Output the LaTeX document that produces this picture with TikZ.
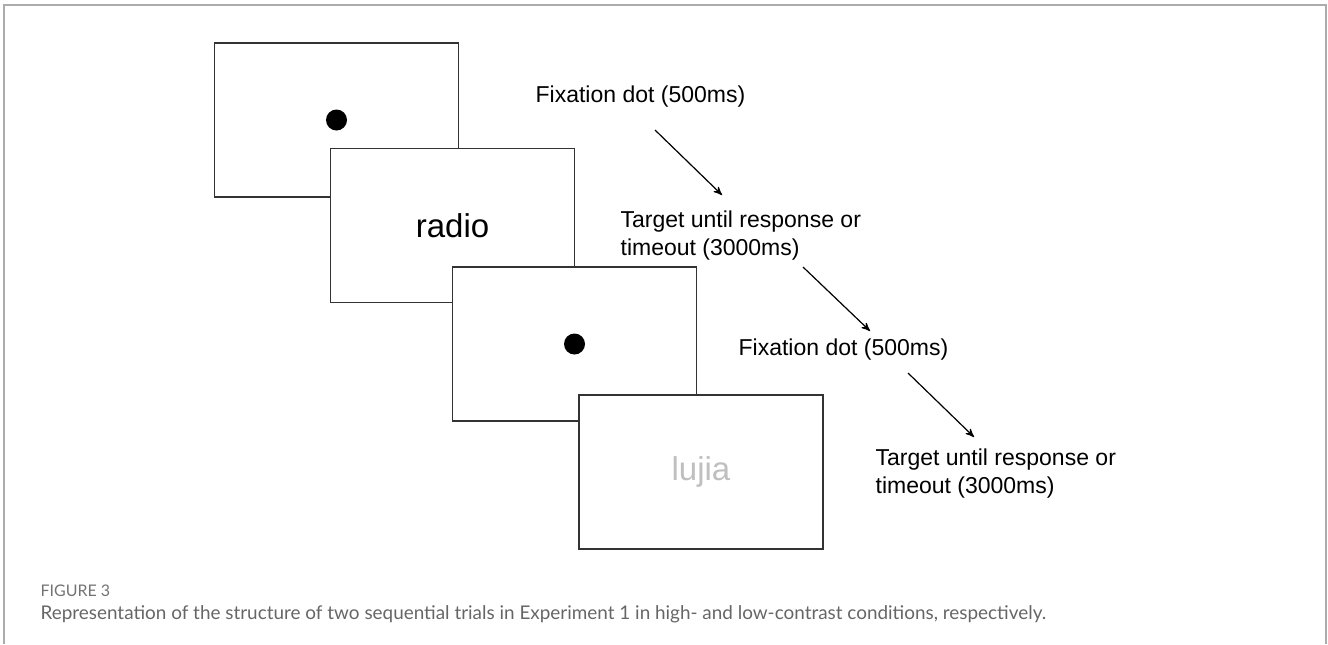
\documentclass[tikz,border=0pt]{standalone}
\usepackage{fontspec}
\setmainfont{Liberation Sans}
\newfontfamily\capfont{Lato}
\usetikzlibrary{arrows,positioning}

\begin{document}
\begin{tikzpicture}[x=0.5pt, y=-0.5pt, ->, >=stealth', semithick]
	\tikzstyle{screen}=[draw=black!80,fill=white,line width=0.75pt,minimum width=122pt,minimum height=77pt,inner sep=0pt]
	\tikzstyle{fixdot}=[circle,fill=black,minimum size=10.5pt,inner sep=0pt]
	\tikzstyle{step label}=[anchor=west,align=left,inner sep=0pt,font=\fontsize{11.5}{14}\selectfont]
	\tikzstyle{word}=[font=\fontsize{16.5}{20}\selectfont]
	\useasboundingbox (0,0) rectangle (1328,644);
	\draw[-, gray!65, line width=0.75pt] (4,644) -- (4,5) -- (1326,5) -- (1326,644);
	% screens
	\node[screen]   (S1) at (336.5,120)   {};
	\node[fixdot]   (D1) at (S1)          {};
	\node[screen]   (S2) at (452.5,225.5) {};
	\node[word]     (W1) at (S2)          {radio};
	\node[screen]   (S3) at (574.5,344)   {};
	\node[fixdot]   (D2) at (S3)          {};
	\node[screen]   (S4) at (701,472)     {};
	\node[word,text=black!25] (W2) at (S4) {lujia};
	% labels
	\node[step label] (L1) at (535,97)  {Fixation dot (500ms)};
	\node[step label] (L2) at (620,236) {Target until response or\\timeout (3000ms)};
	\node[step label] (L3) at (738,350) {Fixation dot (500ms)};
	\node[step label] (L4) at (875,474) {Target until response or\\timeout (3000ms)};
	\coordinate (A1) at (655,130);  \coordinate (B1) at (722,195);
	\coordinate (A2) at (803,267);  \coordinate (B2) at (870,331);
	\coordinate (A3) at (908,373);  \coordinate (B3) at (974,437);
	\path
	(A1) edge (B1)
	(A2) edge (B2)
	(A3) edge (B3);
	% caption
	\node[anchor=west,inner sep=0pt,text=black!55,font=\capfont\fontsize{8}{10}\selectfont] (F3) at (40,591) {FIGURE 3};
	\node[anchor=west,inner sep=0pt,text=black!60,font=\capfont\fontsize{9.45}{11}\selectfont] (C3) at (40,614)
		{Representation of the structure of two sequential trials in Experiment 1 in high- and low-contrast conditions, respectively.};
\end{tikzpicture}
\end{document}
